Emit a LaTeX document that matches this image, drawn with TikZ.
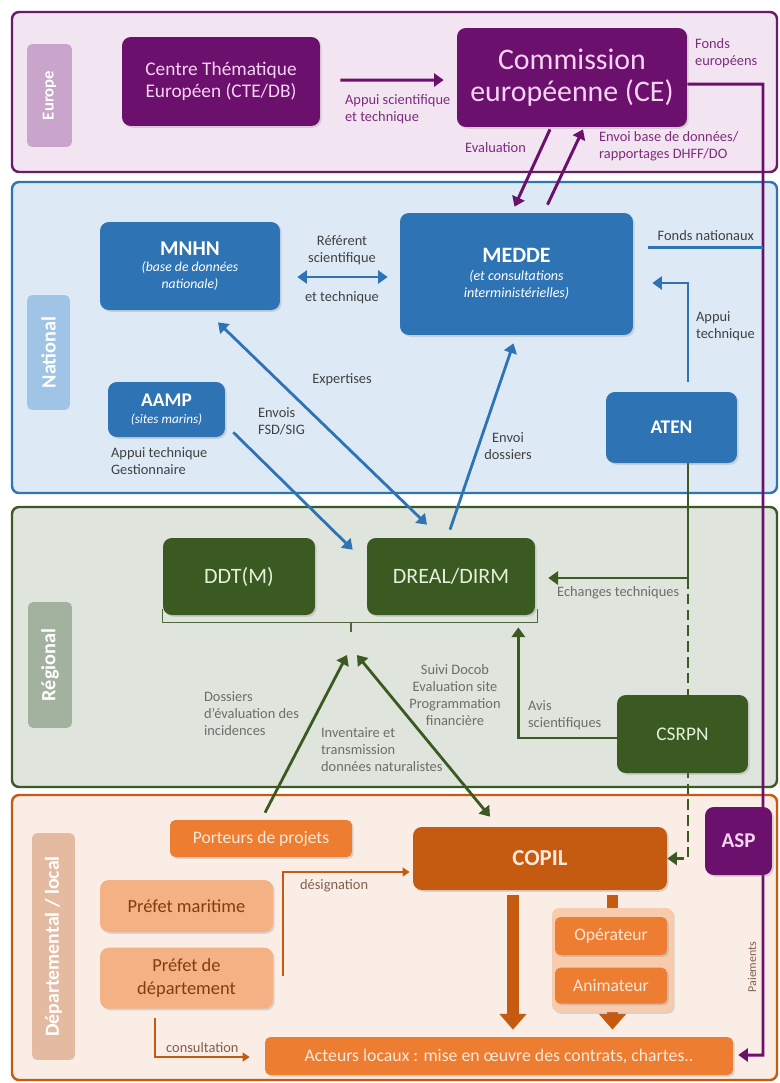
\documentclass[tikz,border=0pt]{standalone}
\usepackage{fontspec}
\setmainfont{Carlito}
\usepackage{xcolor}
\usetikzlibrary{arrows.meta, positioning, calc, shadows}

\definecolor{eurBg}{HTML}{F3E4F1}
\definecolor{eurLine}{HTML}{6A1B6A}
\definecolor{eurTag}{HTML}{C9A5CB}
\definecolor{eurBox}{HTML}{6C106E}
\definecolor{eurBoxTxt}{HTML}{F6D3F1}
\definecolor{eurTxt}{HTML}{7D2D7D}
\definecolor{natBg}{HTML}{DDEAF6}
\definecolor{natLine}{HTML}{2E75B6}
\definecolor{natTag}{HTML}{A0C4E6}
\definecolor{natBox}{HTML}{2E74B5}
\definecolor{natTxt}{HTML}{404040}
\definecolor{regBg}{HTML}{DFE4DC}
\definecolor{regLine}{HTML}{3B5A25}
\definecolor{regTag}{HTML}{A3B19F}
\definecolor{regBox}{HTML}{3A5A22}
\definecolor{regBoxTxt}{HTML}{E3F0DA}
\definecolor{regTxt}{HTML}{6D6D6D}
\definecolor{depBg}{HTML}{FAEDE5}
\definecolor{depLine}{HTML}{C55A11}
\definecolor{depTag}{HTML}{E4BBA0}
\definecolor{depBox}{HTML}{ED7D31}
\definecolor{depDark}{HTML}{C55A11}
\definecolor{depLight}{HTML}{F4B183}
\definecolor{depGroup}{HTML}{F8CBAD}
\definecolor{depBoxTxt}{HTML}{FDE9DC}
\definecolor{depTxt}{HTML}{7F6050}
\definecolor{prefTxt}{HTML}{843C0C}

\pgfdeclarelayer{bg}
\pgfdeclarelayer{links}
\pgfsetlayers{bg,links,main}

\begin{document}
\begin{tikzpicture}[x=0.02cm, y=-0.02cm, >={Triangle[width=7.5pt,length=5.5pt]},
    band/.style={rounded corners=4pt, line width=1.4pt},
    tag/.style={rectangle, rounded corners=3pt, rotate=90, text=white, font=\bfseries\fontsize{11.5}{13}\selectfont},
    box/.style={rectangle, rounded corners=5pt, align=center, inner sep=2pt, drop shadow={opacity=0.25, shadow xshift=1pt, shadow yshift=-1pt}},
    ebox/.style={box, fill=eurBox, text=eurBoxTxt},
    nbox/.style={box, fill=natBox, text=white},
    rbox/.style={box, fill=regBox, text=regBoxTxt},
    obox/.style={box, fill=depBox, text=depBoxTxt, rounded corners=3pt, font=\fontsize{10}{12}\selectfont},
    pbox/.style={box, fill=depLight, text=prefTxt, font=\fontsize{10.5}{13}\selectfont},
    lbl/.style={align=center, inner sep=1pt, font=\fontsize{8.2}{9.8}\selectfont},
    parrow/.style={draw=eurBox, line width=1.7pt, ->},
    bline/.style={draw=natBox, line width=1.6pt},
    barrow/.style={bline, ->},
    gline/.style={draw=regBox, line width=1.6pt},
    garrow/.style={gline, ->},
    gthin/.style={draw=regBox!70!gray, line width=0.8pt},
    oarrow/.style={draw=depDark, line width=1.1pt, -{Triangle[width=5pt,length=4pt]}},
    bigarrow/.style={draw=depDark, line width=6.8pt, -{Triangle[width=15pt,length=9pt]}}]

    \useasboundingbox (0,0) rectangle (779,1083);

    % levels
    \begin{pgfonlayer}{bg}
        \fill[white] (0,0) rectangle (779,1083);
        \draw[band, draw=eurLine, fill=eurBg] (12,12) rectangle (777,172);
        \draw[band, draw=natLine, fill=natBg] (12,182) rectangle (777,493);
        \draw[band, draw=regLine, fill=regBg] (12,507) rectangle (777,787);
        \draw[band, draw=depLine, fill=depBg] (12,795) rectangle (777,1080);
    \end{pgfonlayer}

    \node[tag, fill=eurTag, minimum width=2.06cm, minimum height=0.9cm, font=\bfseries\fontsize{9.5}{11}\selectfont] (tagEur) at (49.5,95.5) {Europe};
    \node[tag, fill=natTag, minimum width=2.3cm, minimum height=0.86cm] (tagNat) at (48.5,352.5) {National};
    \node[tag, fill=regTag, minimum width=2.52cm, minimum height=0.88cm] (tagReg) at (50,665) {Régional};
    \node[tag, fill=depTag, minimum width=4.54cm, minimum height=0.86cm, font=\bfseries\fontsize{11.3}{13}\selectfont] (tagDep) at (53.5,946.5) {Départemental / local};

    % Europe
    \node[ebox, minimum width=3.96cm, minimum height=1.78cm, font=\fontsize{11}{12.2}\selectfont] (cte) at (221,81.5) {Centre Thématique\\Européen (CTE/DB)};
    \node[ebox, minimum width=4.6cm, minimum height=1.98cm, font=\fontsize{17}{18}\selectfont] (ce) at (572,77.5) {Commission\\européenne (CE)};

    % National
    \node[nbox, minimum width=3.6cm, minimum height=1.76cm, font=\itshape\fontsize{7.8}{9.6}\selectfont] (mnhn) at (190,266) {{\upshape\bfseries\fontsize{12}{14}\selectfont MNHN}\\(base de données\\nationale)};
    \node[nbox, minimum width=4.66cm, minimum height=2.44cm, font=\itshape\fontsize{8}{10}\selectfont] (medde) at (516.5,274) {{\upshape\bfseries\fontsize{12.5}{15}\selectfont MEDDE}\\(et consultations\\interministérielles)};
    \node[nbox, minimum width=2.34cm, minimum height=1.1cm, font=\itshape\fontsize{7.5}{9.5}\selectfont] (aamp) at (166.5,409.5) {{\upshape\bfseries\fontsize{11}{13}\selectfont AAMP}\\(sites marins)};
    \node[nbox, minimum width=2.62cm, minimum height=1.42cm, font=\bfseries\fontsize{11}{13}\selectfont] (aten) at (671.5,427.5) {ATEN};

    % Regional
    \node[rbox, minimum width=3.04cm, minimum height=1.54cm, font=\fontsize{12.5}{15}\selectfont] (ddtm) at (239,576.5) {DDT(M)};
    \node[rbox, minimum width=3.36cm, minimum height=1.54cm, font=\fontsize{12.5}{15}\selectfont] (dreal) at (451,576.5) {DREAL/DIRM};
    \node[rbox, minimum width=2.62cm, minimum height=1.56cm, font=\fontsize{11}{13}\selectfont] (csrpn) at (682.5,734) {CSRPN};

    % Departemental / local
    \node[obox, minimum width=3.64cm, minimum height=0.74cm] (porteurs) at (261,838.5) {Porteurs de projets};
    \node[pbox, minimum width=3.46cm, minimum height=1.04cm] (pmar) at (186.5,906) {Préfet maritime};
    \node[pbox, minimum width=3.46cm, minimum height=1.22cm, below=0.3cm of pmar] (pdep) {Préfet de\\département};
    \node[box, fill=depDark, text=depBoxTxt, minimum width=5.08cm, minimum height=1.26cm, font=\bfseries\fontsize{13}{15}\selectfont] (copil) at (540,858.5) {COPIL};
    \node[box, fill=depGroup, rounded corners=4pt, minimum width=2.42cm, minimum height=2.08cm] (grp) at (612.5,960) {};
    \node[obox, minimum width=2.24cm, minimum height=0.76cm] (oper) at (611,936) {Opérateur};
    \node[obox, minimum width=2.24cm, minimum height=0.72cm, below=0.24cm of oper] (anim) {Animateur};
    \node[obox, minimum width=9.36cm, minimum height=0.76cm, font=\fontsize{10.1}{12}\selectfont] (acteurs) at (499,1056) {Acteurs locaux : mise en œuvre des contrats, chartes..};
    \node[box, fill=eurBox, text=eurBoxTxt, minimum width=1.34cm, minimum height=1.36cm, font=\bfseries\fontsize{12}{14}\selectfont] (asp) at (738.5,841) {ASP};

    \begin{pgfonlayer}{links}
        % Europe
        \draw[parrow] ($(cte.east)+(20,-1.5)$) -- ($(ce.west)+(-13,2.5)$);
        \draw[parrow] ($(ce.south)+(-22,2)$) -- ($(medde.north)+(-2,-6)$);
        \draw[parrow] ($(medde.north)+(31,-8)$) -- ($(ce.south)+(11,2)$);
        \coordinate (payLine) at (763,84);
        \draw[parrow] ($(ce.east)+(0,6.5)$) -- (payLine) |- ($(acteurs.east)+(5,-1)$);

        % National
        \draw[bline, <->] ($(mnhn.east)+(17,11)$) -- ($(medde.west)+(-12,3)$);
        \draw[bline] ($(medde.north east)+(15,35)$) -- ++(115,0) node[lbl, text=natTxt, midway, above=2pt] (lFondsNat) {Fonds nationaux};
        \draw[barrow] ($(aten.north)+(16.5,-10)$) |- ($(medde.east)+(19,9)$);
        \draw[barrow] ($(aamp.south east)+(8,-5)$) -- ($(dreal.north west)+(-14,12)$);
        \draw[bline, <->] ($(mnhn.south)+(28,12)$) -- ($(dreal.north)+(-24,-13)$);
        \draw[barrow] ($(dreal.north)+(-1,-8)$) -- ($(medde.south)+(-3,8)$);

        % Regional
        \coordinate (ech) at (688,578);
        \draw[gline] (aten.south -| ech) -- (ech);
        \draw[garrow] (ech) -- ($(dreal.east |- ech)+(13,0)$) node[lbl, text=regTxt, midway, below=3pt] (lEch) {Echanges techniques};
        \draw[garrow, dash pattern=on 6pt off 3pt] (ech) |- (copil.east);
        \draw[garrow] ($(csrpn.west)+(0,4)$) -| ($(dreal.south east)+(-17,12)$);
        \draw[gthin] ($(ddtm.south west)+(0,-6)$) -- ++(0,13) -| ($(dreal.south east)+(2,-6)$);
        \coordinate (brk) at (351,622);
        \draw[gthin] (brk) -- ++(0,10);
        \draw[garrow] ($(porteurs.north)+(4,-7)$) -- ($(brk)+(-4,33)$);
        \draw[gline, <->] ($(brk)+(6,33)$) -- ($(copil.north)+(-50,-10)$);

        % Departemental / local
        \draw[oarrow] ($(pdep.east)+(10,-2)$) |- ($(copil.west)+(-3,13.5)$);
        \draw[oarrow] ($(pdep.south)+(-31.5,9)$) |- ($(acteurs.west)+(-15,1)$) node[lbl, text=depTxt, pos=0.75, above=1pt] (lConsult) {consultation};
        \draw[bigarrow] ($(copil.south)+(-27,5)$) -- ($(acteurs.north)+(14,-7)$);
        \draw[bigarrow] ($(grp.north |- copil.south)+(0,5)$) -- ($(grp.south |- acteurs.north)+(0,-7)$);
    \end{pgfonlayer}

    % labels
    \node[lbl, text=eurTxt, align=left, anchor=north west] (lSci) at (343,92) {Appui scientifique\\et technique};
    \node[lbl, text=eurTxt, anchor=east] (lEval) at (528,148) {Evaluation};
    \node[lbl, text=eurTxt, align=left, anchor=west] (lEnvoiBD) at (597,146) {Envoi base de données/\\rapportages DHFF/DO};
    \node[lbl, text=eurTxt, align=left, anchor=south west] (lFondsEur) at (693,70) {Fonds\\européens};
    \node[lbl, text=depTxt, rotate=90, font=\fontsize{6.8}{8}\selectfont] (lPaie) at (752,967) {Paiements};
    \node[lbl, text=natTxt] (lRef) at (342,250) {Référent\\scientifique};
    \node[lbl, text=natTxt] (lRefB) at (342,298) {et technique};
    \node[lbl, text=natTxt, align=left, anchor=west] (lAppTech) at (694,326) {Appui\\technique};
    \node[lbl, text=natTxt, align=left, anchor=north west] (lEnvois) at (256,405) {Envois\\FSD/SIG};
    \node[lbl, text=natTxt, align=left, anchor=north west] (lAampApp) at (109,445) {Appui technique\\Gestionnaire};
    \node[lbl, text=natTxt] (lExp) at (342,380) {Expertises};
    \node[lbl, text=natTxt] (lDossiers) at (508,446) {Envoi\\dossiers};
    \node[lbl, text=regTxt, align=left, anchor=west] (lAvis) at (526,715) {Avis\\scientifiques};
    \node[lbl, text=regTxt, align=left, anchor=north west] (lDoss) at (202,689) {Dossiers\\d'évaluation des\\incidences};
    \node[lbl, text=regTxt, align=left, anchor=north west] (lInv) at (319,725) {Inventaire et\\transmission\\données naturalistes};
    \node[lbl, text=regTxt, anchor=north] (lSuivi) at (455,662) {Suivi Docob\\Evaluation site\\Programmation\\financière};
    \node[lbl, text=depTxt, anchor=north west] (lDesig) at (298,877) {désignation};
\end{tikzpicture}
\end{document}
